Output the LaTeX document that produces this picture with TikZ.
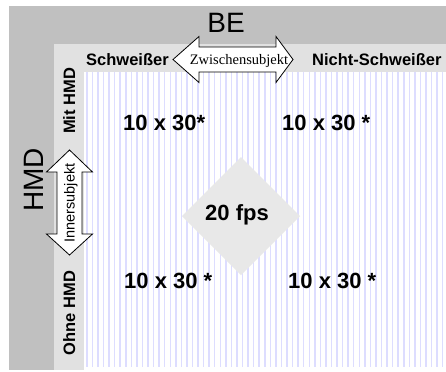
\documentclass[tikz,border=0pt]{standalone}
\usepackage{fontspec}
\setmainfont{Liberation Sans}
\newfontfamily\serifx{Liberation Serif}
\definecolor{outergrey}{HTML}{C0C0C0}
\definecolor{panelgrey}{HTML}{E1E1E1}
\definecolor{stripecol}{HTML}{DDDDFF}
\definecolor{diamondgrey}{HTML}{E8E8E8}
\tikzset{
  cell/.style={inner sep=0pt, anchor=base west, font=\fontsize{22bp}{24bp}\selectfont\bfseries},
  head/.style={inner sep=0pt, anchor=base west, font=\fontsize{16.5bp}{18bp}\selectfont\bfseries},
  rowhead/.style={inner sep=0pt, anchor=base, rotate=90, font=\fontsize{16.5bp}{18bp}\selectfont\bfseries},
  bigtitle/.style={inner sep=0pt, anchor=base, font=\fontsize{28bp}{30bp}\selectfont},
  arrowshape/.style={draw=black, fill=white, line width=0.8bp, line join=miter},
}
\begin{document}
\begin{tikzpicture}[x=1bp, y=-1bp]
\useasboundingbox (0,0) rectangle (446,371);
\fill[white] (0,0) rectangle (446,371);
% panels
\fill[outergrey] (9,6) rectangle (446,370);
\fill[panelgrey] (54,44) rectangle (446,370);
\fill[white] (84,72) rectangle (446,371);
\begin{scope}
  \clip (84,72) rectangle (446,367);
  \foreach \i in {0,...,66} {
    \fill[stripecol] ({86.1+\i*5.56},72) rectangle ++(1.5,295);
  }
\end{scope}
% diamond
\fill[diamondgrey] (241,157) -- (300,216) -- (241,275) -- (182,216) -- cycle;
\node[cell] (fps) at (205,220) {20 fps};
% cells
\node[cell] (tl) at (123,130) {10 x 30*};
\node[cell] (tr) at (282,130) {10 x 30 *};
\node[cell] (bl) at (124,288) {10 x 30 *};
\node[cell] (br) at (288,288) {10 x 30 *};
% titles
\node[bigtitle] (be) at (226,32) {BE};
\node[bigtitle, rotate=90] (hmd) at (43,180) {HMD};
% column heads
\node[head] (schw) at (86,65) {Schweißer};
\node[head] (nschw) at (312,65) {Nicht-Schweißer};
% row heads
\node[rowhead] (mit) at (75,101) {Mit HMD};
\node[rowhead] (ohne) at (75,313) {Ohne HMD};
% horizontal double arrow
\draw[arrowshape] (173,59.5) -- (199,36.5) -- (199,47) -- (276,47) -- (276,36.5) -- (293,59.5)
  -- (276,82.5) -- (276,72) -- (199,72) -- (199,82.5) -- cycle;
\node[inner sep=0pt, anchor=base, font=\serifx\fontsize{14.5bp}{16bp}\selectfont] (zw) at (239,64.3) {Zwischensubjekt};
% vertical double arrow
\draw[arrowshape] (69.5,150) -- (92.5,172) -- (82,172) -- (82,234) -- (92.5,234) -- (69.5,255)
  -- (46.5,234) -- (57,234) -- (57,172) -- (46.5,172) -- cycle;
\node[inner sep=0pt, anchor=base, rotate=90, font=\fontsize{14.5bp}{16bp}\selectfont] (inner) at (74.5,203) {Innersubjekt};
\end{tikzpicture}
\end{document}
